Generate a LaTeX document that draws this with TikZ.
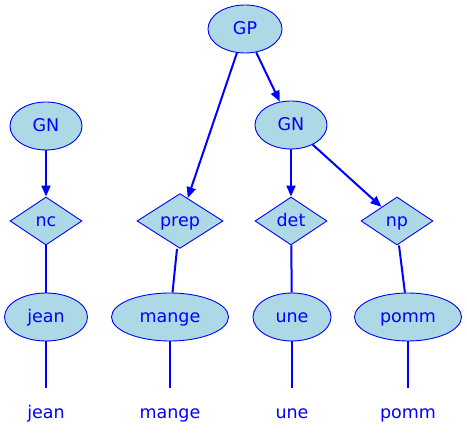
\documentclass[tikz,border=0pt]{standalone}
\usepackage{fontspec}
\setmainfont{DejaVu Sans}
\usetikzlibrary{shapes.geometric,arrows.meta}
\definecolor{lb}{HTML}{ADD8E6}
\begin{document}
\begin{tikzpicture}[x=1pt,y=-1pt,
  every node/.style={font=\fontsize{17.5}{20}\selectfont, text=blue, text height=13pt, text depth=2pt},
  ell/.style={ellipse, draw=blue, fill=lb, line width=0.9pt, inner sep=0pt, minimum height=48pt},
  dia/.style={diamond, draw=blue, fill=lb, line width=0.9pt, inner sep=0pt, minimum height=48pt},
  word/.style={inner sep=0pt, minimum height=50pt},
  edge/.style={blue, line width=2pt},
  arr/.style={edge, -{Triangle[length=11pt,width=9pt]}}]
\useasboundingbox (0,0) rectangle (467,443);
\node[ell, minimum width=74pt] (GP) at (245,29) {GP};
\node[ell, minimum width=72pt] (GN1) at (46,126) {GN};
\node[ell, minimum width=72pt] (GN2) at (291,125) {GN};
\node[dia, minimum width=72pt] (nc) at (46,221) {nc};
\node[dia, minimum width=86pt] (prep) at (180,221) {prep};
\node[dia, minimum width=72pt] (det) at (291,221) {det};
\node[dia, minimum width=72pt] (np) at (397,221) {np};
\node[ell, minimum width=83pt] (e1) at (46,317) {jean};
\node[ell, minimum width=117pt] (e2) at (170,317) {mange};
\node[ell, minimum width=78pt] (e3) at (292,317) {une};
\node[ell, minimum width=107pt] (e4) at (408,317) {pomm};
\node[word] (w1) at (46,413) {jean};
\node[word] (w2) at (170,413) {mange};
\node[word] (w3) at (292,413) {une};
\node[word] (w4) at (408,413) {pomm};
\draw[arr] (GP) -- (prep);
\draw[arr] (GP) -- (GN2);
\draw[arr] (GN1) -- (nc);
\draw[arr] (GN2) -- (det);
\draw[arr] (GN2) -- (np);
\draw[edge] (nc) -- (e1);
\draw[edge] (prep.south) ++(-3,0) coordinate (ps) (ps) -- (e2);
\draw[edge] (det) -- (e3);
\draw[edge] (np.south) ++(2,0) coordinate (nps) (nps) -- (e4);
\draw[edge] (e1) -- (w1.north);
\draw[edge] (e2) -- (w2.north);
\draw[edge] (e3) -- (w3.north);
\draw[edge] (e4) -- (w4.north);
\end{tikzpicture}
\end{document}
